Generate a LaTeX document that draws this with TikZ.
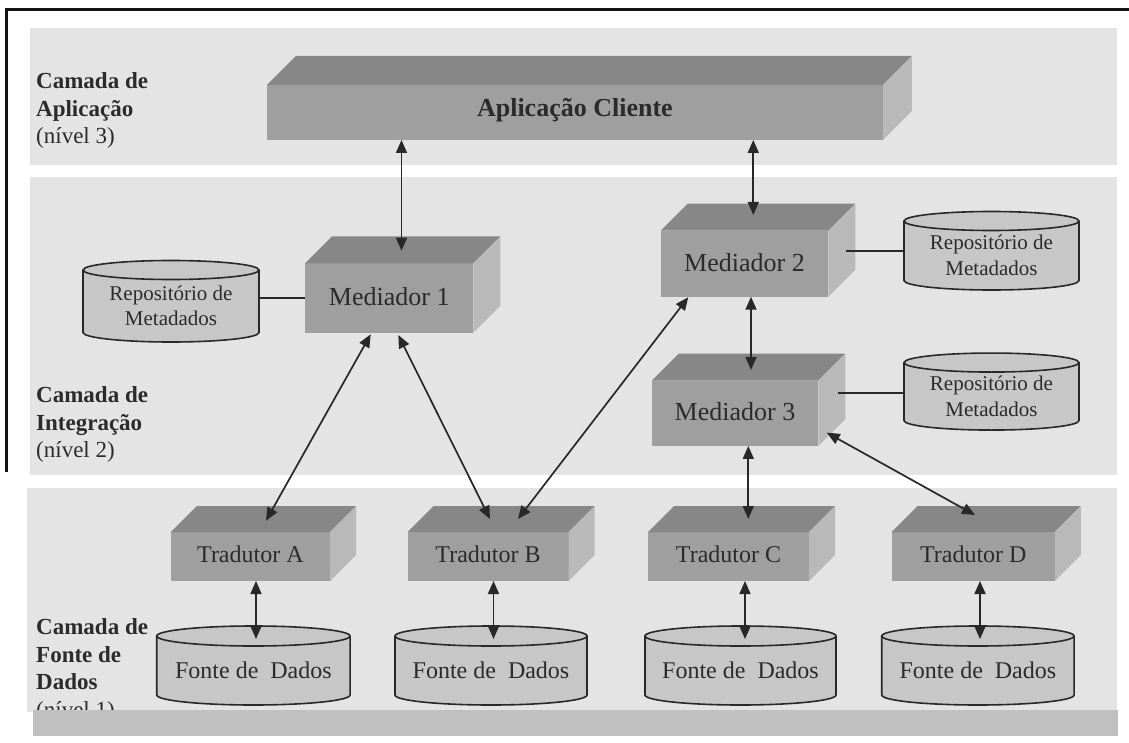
\documentclass[tikz,border=0pt]{standalone}
\usepackage{fontspec}
\setmainfont{Liberation Serif}
\usetikzlibrary{calc,arrows.meta}
\pgfdeclarelayer{back}
\pgfdeclarelayer{shapes}
\pgfsetlayers{back,shapes,main}

\definecolor{bandgray}{HTML}{E4E4E4}
\definecolor{frontgray}{HTML}{9F9F9F}
\definecolor{topgray}{HTML}{878787}
\definecolor{sidegray}{HTML}{B9B9B9}
\definecolor{cylgray}{HTML}{C7C7C7}
\definecolor{ink}{HTML}{282828}
\definecolor{textgray}{HTML}{2B2B2B}
\definecolor{bargray}{HTML}{C0C0C0}

% top and right faces of a 3D block whose front face is node #1, depth #2
\newcommand\boxfaces[2]{%
  \fill[topgray] (#1.north west) -- ++(#2pt,#2pt) -- ($(#1.north east)+(#2pt,#2pt)$) -- (#1.north east) -- cycle;
  \fill[sidegray] (#1.north east) -- ++(#2pt,#2pt) -- ($(#1.south east)+(#2pt,#2pt)$) -- (#1.south east) -- cycle;}

% drum drawn round node #1 (from the top rim's centre line down to the base), radii #2, #3
\newcommand\drawcyl[3]{%
  \begin{pgfonlayer}{shapes}
    \fill[cylgray] (#1.north west) -- ($(#1.south west)+(0,#3)$)
      arc[start angle=180,end angle=360,x radius=#2pt,y radius=#3pt] -- (#1.north east) -- cycle;
    \draw[cylline] (#1.north west) -- ($(#1.south west)+(0,#3)$)
      arc[start angle=180,end angle=360,x radius=#2pt,y radius=#3pt] -- (#1.north east);
    \filldraw[cylline, fill=cylgray] (#1.north) ellipse[x radius=#2pt,y radius=#3pt];
  \end{pgfonlayer}}

\begin{document}
\begin{tikzpicture}[x=1pt,y=1pt,
  conn/.style={draw=ink, line width=1.7pt,
    {Triangle[length=13pt,width=11pt]}-{Triangle[length=13pt,width=11pt]}},
  link/.style={draw=ink, line width=1.7pt},
  cylline/.style={draw=ink, line width=1.6pt},
  boxfront/.style={fill=frontgray, inner sep=0pt, outer sep=0pt, text=textgray},
  medbox/.style={boxfront, font=\fontsize{26}{30}\selectfont,
    text height=17.7pt, text depth=3pt},
  tradbox/.style={boxfront, minimum height=49pt, font=\fontsize{24}{28}\selectfont,
    text height=16.4pt, text depth=4pt},
  cylnode/.style={inner sep=0pt, outer sep=0pt, align=center, text=textgray},
  repo/.style={cylnode, minimum width=175pt, font=\fontsize{21}{25.5}\selectfont},
  fonte/.style={cylnode, minimum height=69pt, font=\fontsize{24}{28}\selectfont},
  layerlabel/.style={anchor=north west, align=left, inner sep=0pt, text=textgray,
    font=\fontsize{23}{27.5}\selectfont}]

\useasboundingbox (0,0) rectangle (1129,-743);

% layer bands
\begin{pgfonlayer}{back}
  \fill[white] (0,0) rectangle (1129,-743);
  \fill[bandgray] (30,-28) rectangle (1117,-165);
  \fill[bandgray] (30,-177) rectangle (1117,-475);
  \fill[bandgray] (27,-488) rectangle (1117,-712);
\end{pgfonlayer}
\draw[line width=3pt, black!92] (6,-472) -- (6,-10) -- (1129,-10);

% layer captions
\node[layerlabel] (lbl3) at (36,-72.5) {\textbf{Camada de}\\\textbf{Aplicação}\\(nível 3)};
\node[layerlabel] (lbl2) at (36,-386.5) {\textbf{Camada de}\\\textbf{Integração}\\(nível 2)};
\node[layerlabel] (lbl1) at (36,-618.5) {\textbf{Camada de}\\\textbf{Fonte de}\\\textbf{Dados}\\(nível 1)};

% application
\node[boxfront, minimum width=616pt, minimum height=55pt,
  font=\bfseries\fontsize{26}{30}\selectfont, text height=17.7pt, text depth=8.7pt]
  (app) at (574.9,-112.5) {Aplicação Cliente};
\boxfaces{app}{29}

% mediators
\node[medbox, minimum width=168.3pt, minimum height=69.4pt] (m1) at (389.2,-298) {Mediador 1};
\boxfaces{m1}{27}
\node[medbox, minimum width=167.6pt, minimum height=66pt] (m2) at (744.5,-263.7) {Mediador 2};
\boxfaces{m2}{27}
\node[medbox, minimum width=166.6pt, minimum height=65.3pt] (m3) at (735,-413.3) {Mediador 3};
\boxfaces{m3}{27}

% metadata repositories
\node[repo, minimum width=176pt, minimum height=72pt] (repo1) at (171,-306) {Repositório de\\Metadados};
\drawcyl{repo1}{88}{9.5}
\node[repo, minimum height=69pt] (repo2) at (991.5,-255.5) {Repositório de\\Metadados};
\drawcyl{repo2}{87.5}{9.5}
\node[repo, minimum height=67.5pt] (repo3) at (991.5,-396.3) {Repositório de\\Metadados};
\drawcyl{repo3}{87.5}{9.5}

% translators
\node[tradbox, minimum width=159.3pt] (tA) at (250.4,-556.5) {Tradutor A};
\boxfaces{tA}{26}
\node[tradbox, minimum width=161pt] (tB) at (488,-556.5) {Tradutor B};
\boxfaces{tB}{26}
\node[tradbox, minimum width=161pt] (tC) at (728.5,-556.5) {Tradutor C};
\boxfaces{tC}{26}
\node[tradbox, minimum width=163.3pt] (tD) at (973.3,-556.5) {Tradutor D};
\boxfaces{tD}{26}

% data sources
\node[fonte, minimum width=193.3pt] (fA) at (253.4,-670.5) {Fonte de\ \ Dados};
\drawcyl{fA}{96.65}{10}
\node[fonte, minimum width=192pt] (fB) at (491,-670.5) {Fonte de\ \ Dados};
\drawcyl{fB}{96}{10}
\node[fonte, minimum width=191pt] (fC) at (740.5,-670.5) {Fonte de\ \ Dados};
\drawcyl{fC}{95.5}{10}
\node[fonte, minimum width=192.3pt] (fD) at (977.9,-670.5) {Fonte de\ \ Dados};
\drawcyl{fD}{96.15}{10}

% repository links
\draw[link] (repo1.east |- m1.west) -- (m1.west);
\coordinate (m2r) at ($(m2.east)+(18,13)$);
\draw[link] (m2r) -- (repo2.west |- m2r);
\coordinate (m3r) at ($(m3.east)+(20,20)$);
\draw[link] (m3r) -- (repo3.west |- m3r);

% application <-> mediators
\coordinate (m1in) at ($(m1.north)+(12.3,12.6)$);
\draw[conn] (app.south -| m1in) -- (m1in);
\coordinate (m2in) at ($(m2.north)+(8.8,15.7)$);
\draw[conn] (app.south -| m2in) -- (m2in);
\coordinate (m3in) at ($(m3.north)+(16,10.7)$);
\draw[conn] (m2.south -| m3in) -- (m3in);

% mediators <-> translators
\coordinate (m1a) at ($(m1.south)+(-18.5,-1.6)$);
\coordinate (tAin) at ($(tA.north)+(15.6,11.3)$);
\draw[conn] (m1a) -- (tAin);
\coordinate (m1b) at ($(m1.south)+(9.1,-2.3)$);
\coordinate (tBin1) at ($(tB.north)+(2,13)$);
\draw[conn] (m1b) -- (tBin1);
\coordinate (m2b) at ($(m2.south)+(-56.2,-0.5)$);
\coordinate (tBin2) at ($(tB.north)+(30,13)$);
\draw[conn] (m2b) -- (tBin2);
\coordinate (tCin) at ($(tC.north)+(19.8,13)$);
\draw[conn] (m3.south -| tCin) -- (tCin);
\coordinate (m3d) at ($(m3.south east)+(8.4,13.3)$);
\coordinate (tDin) at ($(tD.north)+(1.7,17)$);
\draw[conn] (m3d) -- (tDin);

% translators <-> data sources
\coordinate (fAin) at ($(fA.north)+(2.6,-3)$);
\draw[conn] (tA.south -| fAin) -- (fAin);
\coordinate (fBin) at ($(fB.north)+(2.5,-3)$);
\draw[conn] (tB.south -| fBin) -- (fBin);
\coordinate (fCin) at ($(fC.north)+(4.5,-3)$);
\draw[conn] (tC.south -| fCin) -- (fCin);
\coordinate (fDin) at ($(fD.north)+(2.1,-3)$);
\draw[conn] (tD.south -| fDin) -- (fDin);

% footer strip
\fill[bargray] (33,-709.5) rectangle (1118,-736);
\end{tikzpicture}
\end{document}
